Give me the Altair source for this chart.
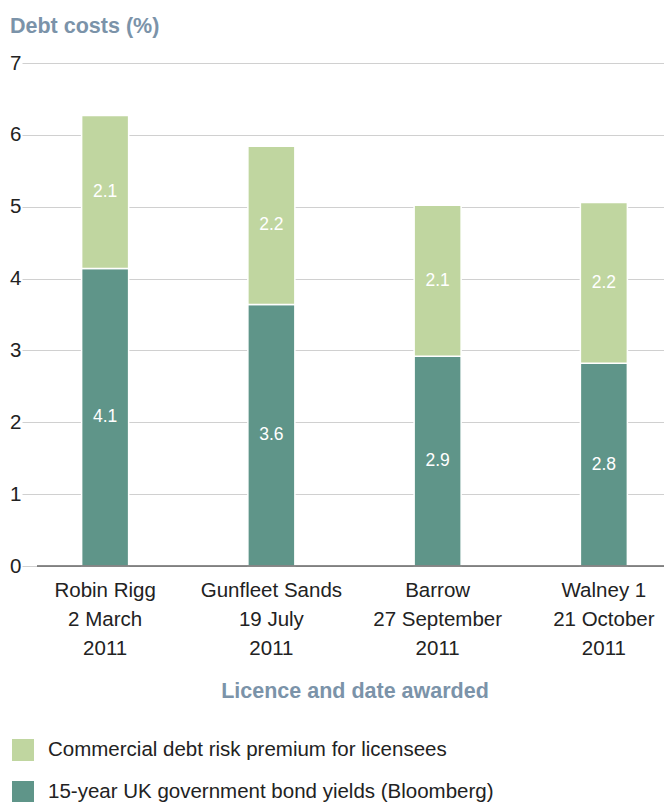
import altair as alt
import pandas as pd

sites = ["Robin Rigg", "Gunfleet Sands", "Barrow", "Walney 1"]
dates = ["2 March", "19 July", "27 September", "21 October"]
years = ["2011", "2011", "2011", "2011"]
bond = [4.14, 3.64, 2.92, 2.82]
premium = [2.13, 2.20, 2.10, 2.24]
series = ["15-year UK government bond yields (Bloomberg)",
          "Commercial debt risk premium for licensees"]
colors = ["#5f9589", "#c0d6a0"]

cats = [f"{s}|{d}|{y}" for s, d, y in zip(sites, dates, years)]
rows = []
for i, c in enumerate(cats):
    rows.append(dict(cat=c, series=series[0], value=bond[i], order=0))
    rows.append(dict(cat=c, series=series[1], value=premium[i], order=1))
df = pd.DataFrame(rows)

FONT = "Liberation Sans"
TITLE_COLOR = "#7b93a9"
FS = 20.5

xenc = alt.X(
    "cat:N", sort=cats,
    scale=alt.Scale(range=[-15, 650], paddingInner=0, paddingOuter=0),
    axis=alt.Axis(
        title="Licence and date awarded", labelExpr="split(datum.label, '|')",
        labelAngle=0, labelFontSize=FS, labelLineHeight=29, labelColor="#222",
        labelFont=FONT, labelBaseline="top", labelPadding=14,
        ticks=False, domain=False, grid=False,
        titleFont=FONT, titleFontSize=21.5, titleFontWeight="bold",
        titleColor=TITLE_COLOR, titlePadding=22,
    ),
)

yscale = alt.Scale(domain=[0, 7], nice=False)

bars = alt.Chart(df).mark_bar(size=47, stroke="white", strokeWidth=1.5).encode(
    x=xenc,
    y=alt.Y("value:Q", stack="zero", scale=yscale,
            axis=alt.Axis(values=list(range(0, 8)), format="d", title=None,
                          domain=False, ticks=False, grid=True,
                          gridColor="#d0d0d0", labelFontSize=FS,
                          labelFont=FONT, labelColor="#222", labelPadding=16)),
    color=alt.Color("series:N",
                    scale=alt.Scale(domain=[series[1], series[0]],
                                    range=[colors[1], colors[0]]),
                    legend=alt.Legend(title=None, orient="none", legendX=-25,
                                      legendY=676, symbolType="square",
                                      symbolSize=484, symbolStrokeWidth=0,
                                      labelFontSize=FS, labelFont=FONT,
                                      labelColor="#222", labelOffset=14,
                                      rowPadding=20, labelLimit=640)),
    order=alt.Order("order:Q"),
)

labels = alt.Chart(df).transform_stack(
    stack="value", groupby=["cat"], sort=[alt.SortField("order")], as_=["v0", "v1"]
).transform_calculate(mid="(datum.v0 + datum.v1) / 2").mark_text(
    color="white", fontSize=17.5, font=FONT, baseline="middle"
).encode(
    x=alt.X("cat:N", sort=cats),
    y=alt.Y("mid:Q", scale=yscale),
    text=alt.Text("value:Q", format=".1f"),
)

zero = alt.Chart(pd.DataFrame({"y": [0]})).mark_rule(
    color="#666666", strokeWidth=1.5
).encode(y=alt.Y("y:Q", scale=yscale))

chart = alt.layer(bars, labels, zero).properties(
    width=627, height=503,
    title=alt.Title("Debt costs (%)", anchor="start", frame="group", dx=-27,
                    offset=16, fontSize=21.5, fontWeight="bold", font=FONT,
                    color=TITLE_COLOR),
    autosize=alt.AutoSizeParams(type="none"),
    padding={"left": 37, "top": 63, "right": 0, "bottom": 236},
).configure_view(stroke=None)

chart.save("out.html", embed_options={"renderer": "svg", "actions": False})
